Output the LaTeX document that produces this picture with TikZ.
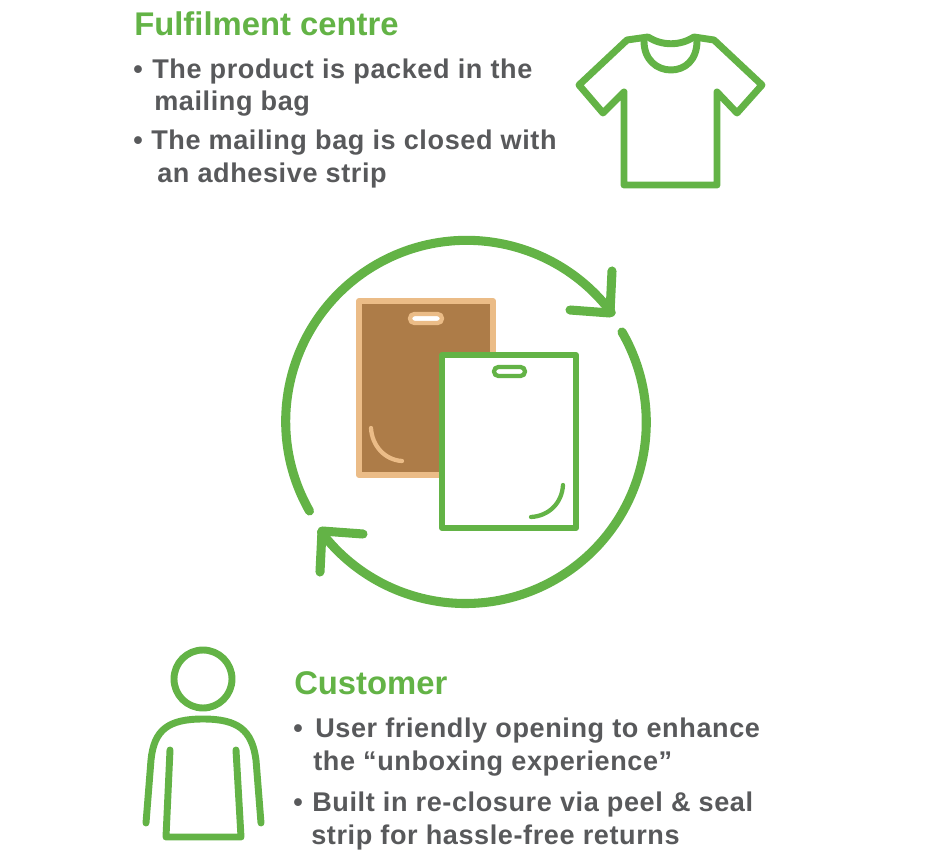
\documentclass[tikz,border=0pt]{standalone}
\usepackage{fontspec}
\setmainfont{Liberation Sans}
\newfontfamily\spacedfont[LetterSpace=2.2]{Liberation Sans}
\definecolor{lgreen}{HTML}{63B346}
\definecolor{tgrey}{HTML}{58595B}
\definecolor{kraft}{HTML}{AD7C48}
\definecolor{kraftedge}{HTML}{EBBC87}
\tikzset{
  icon/.style={draw=lgreen,line width=5.2pt,line cap=round,line join=round},
  title/.style={anchor=base west,inner sep=0pt,font=\bfseries\fontsize{24.6}{28}\selectfont,text=lgreen},
  body/.style={anchor=base west,inner sep=0pt,font=\spacedfont\bfseries\fontsize{20.3}{24}\selectfont,text=tgrey},
  loop/.style={draw=lgreen,line width=6.8pt,line cap=round,line join=round},
  bagthin/.style={line width=3.2pt,line cap=round,line join=round}
}
\begin{document}
\begin{tikzpicture}[x=0.75pt,y=-0.75pt]
\useasboundingbox (0,0) rectangle (943,863);
% texts
\node[title] (t1) at (134,36) {Fulfilment centre};
\node[body] (b1) at (133,79) {•};
\node[body] (l1) at (152,79) {The product is packed in the};
\node[body] (l2) at (154,111) {mailing bag};
\node[body] (b2) at (133,150) {•};
\node[body] (l3) at (151,150) {The mailing bag is closed with};
\node[body] (l4) at (157,183) {an adhesive strip};
\node[title] (t2) at (294,694) {Customer};
\node[body] (b3) at (293,737) {•};
\node[body] (l5) at (315,737) {User friendly opening to enhance};
\node[body] (l6) at (313,770) {the “unboxing experience”};
\node[body] (b4) at (293,811) {•};
\node[body] (l7) at (312,811) {Built in re-closure via peel \& seal};
\node[body] (l8) at (311,844) {strip for hassle-free returns};
% t-shirt
\draw[icon] (648,37) -- (627,40) -- (579,85) -- (603,113) -- (624,92) -- (624,185) -- (717,185) -- (717,92) -- (737,113) -- (762,85) -- (714,40) -- (694,37)
  .. controls (680,46) and (662,46) .. (648,37);
\draw[icon] (644,41) .. controls (644,60) and (657,70) .. (671,70) .. controls (685,70) and (697,60) .. (697,41);
% brown bag
\draw[draw=kraftedge,fill=kraft,line width=4.5pt,line join=round] (359,301) rectangle (493,475);
\draw[draw=kraftedge,fill=white,line width=3.2pt,rounded corners=3.3pt] (410,314) rectangle (442,323);
\draw[kraftedge,bagthin] (371,428) .. controls (372,446) and (385,460) .. (402,461);
% white bag
\draw[draw=lgreen,fill=white,line width=4.5pt,line join=round] (442,355) rectangle (576,528);
\draw[draw=lgreen,fill=white,line width=3.2pt,rounded corners=3.3pt] (494,367) rectangle (525,376);
\draw[lgreen,bagthin] (563,485) .. controls (562,503) and (549,516) .. (531,517);
% circular arrows
\draw[loop] (622,332) arc[start angle=-30,end angle=142.6,radius=181];
\draw[loop] (309.5,511) arc[start angle=150.3,end angle=323,radius=181];
\draw[loop] (612,271) -- (610,313) -- (570,310);
\draw[loop] (320,572) -- (322,531) -- (363,534);
% person
\draw[icon] (203,679) circle[radius=29];
\draw[icon] (146,823) -- (151,760) .. controls (154,730) and (168,719) .. (203,719)
  .. controls (238,719) and (252,730) .. (256,760) -- (261,823);
\draw[icon] (170,750) -- (166,837) -- (241,837) -- (236,750);
\end{tikzpicture}
\end{document}
